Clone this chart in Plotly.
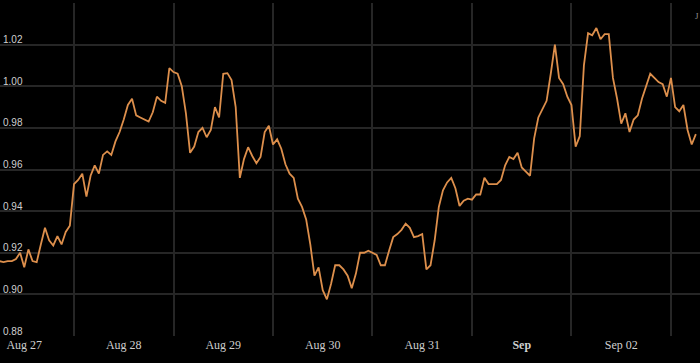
import pandas as pd
import plotly.graph_objects as go

# Hourly values, starting 2024-08-27 06:00
start_time = "2024-08-27 06:00"
values = [
    0.916, 0.9155, 0.916, 0.916, 0.917, 0.920, 0.913, 0.9216, 0.916, 0.9155,
    0.924, 0.932, 0.926, 0.9235, 0.928, 0.924, 0.930, 0.933, 0.953, 0.955,
    0.958, 0.947, 0.957, 0.962, 0.958, 0.967, 0.9687, 0.967, 0.9735, 0.978,
    0.984, 0.991, 0.994, 0.986, 0.985, 0.984, 0.983, 0.9875, 0.995, 0.993,
    0.992, 1.0087, 1.0068, 1.006, 1.000, 0.987, 0.968, 0.971, 0.978, 0.980,
    0.9755, 0.979, 0.990, 0.985, 1.006, 1.0063, 1.003, 0.990, 0.956, 0.965,
    0.9707, 0.9665, 0.963, 0.966, 0.978, 0.981, 0.972, 0.9745, 0.970, 0.9625,
    0.958, 0.956, 0.946, 0.942, 0.936, 0.924, 0.909, 0.913, 0.902, 0.8976,
    0.905, 0.914, 0.914, 0.912, 0.909, 0.903, 0.910, 0.920, 0.920, 0.921,
    0.920, 0.919, 0.914, 0.914, 0.921, 0.9275, 0.929, 0.931, 0.934, 0.932,
    0.9275, 0.928, 0.929, 0.912, 0.914, 0.926, 0.942, 0.950, 0.9538, 0.956,
    0.951, 0.9425, 0.945, 0.946, 0.9455, 0.948, 0.948, 0.956, 0.953, 0.9529,
    0.953, 0.955, 0.962, 0.966, 0.965, 0.968, 0.961, 0.959, 0.957, 0.975,
    0.985, 0.989, 0.993, 1.006, 1.020, 1.004, 1.001, 0.995, 0.991, 0.971,
    0.976, 1.010, 1.0255, 1.0245, 1.028, 1.0226, 1.025, 1.025, 1.004, 0.994,
    0.982, 0.987, 0.978, 0.984, 0.986, 0.994, 0.9995, 1.006, 1.004, 1.002,
    1.001, 0.995, 1.004, 0.990, 0.988, 0.991, 0.979, 0.972, 0.977,
]
times = pd.date_range(start_time, periods=len(values), freq="h")

tick_dates = ["2024-08-27 12:00", "2024-08-28 12:00", "2024-08-29 12:00",
              "2024-08-30 12:00", "2024-08-31 12:00", "2024-09-01 12:00",
              "2024-09-02 12:00"]
tick_labels = ["Aug 27", "Aug 28", "Aug 29", "Aug 30", "Aug 31",
               "<b>Sep</b>", "Sep 02"]
y_ticks = [0.88, 0.90, 0.92, 0.94, 0.96, 0.98, 1.00, 1.02, 1.04]
y_tick_labels = ["0.88", "0.90", "0.92", "0.94", "0.96", "0.98", "1.00", "1.02", ""]
x_range = ["2024-08-27 06:09", "2024-09-03 07:00"]
y_range = [0.88, 1.04]

fig = go.Figure()
fig.add_trace(go.Scatter(
    x=times, y=values, mode="lines",
    line=dict(color="#dd8f4c", width=1.8),
    hoverinfo="skip", showlegend=False,
))

grid = "#262626"
fig.update_layout(
    width=700, height=363,
    margin=dict(l=0, r=0, t=3, b=27, autoexpand=False),
    paper_bgcolor="#000000", plot_bgcolor="#000000",
    xaxis=dict(
        type="date", range=x_range, automargin=False,
        tickmode="array", tickvals=tick_dates, ticktext=tick_labels,
        showgrid=False, zeroline=False, showline=False, ticks="",
        tickfont=dict(family="Liberation Serif", size=12, color="#cfcfcf"),
        minor=dict(tick0="2024-08-27", dtick=86400000, showgrid=True,
                   gridcolor=grid, gridwidth=1.5, ticks=""),
    ),
    yaxis=dict(
        range=y_range, automargin=False,
        tickmode="array", tickvals=y_ticks, ticktext=y_tick_labels,
        ticklabelposition="inside", ticklabelshift=-5, ticklabeloverflow="allow",
        showgrid=True, gridcolor=grid, gridwidth=1.5, zeroline=False,
        showline=False, ticks="",
        tickfont=dict(family="Liberation Sans", size=10, color="#cfcfcf"),
    ),
    annotations=[dict(
        text="J", xref="paper", yref="paper", x=1, y=1,
        xanchor="right", yanchor="top", xshift=1, yshift=-6,
        showarrow=False,
        font=dict(family="Liberation Serif", size=9, color="#8a8a8a"),
    )],
)

fig.write_html(
    "out.html",
    config={"displayModeBar": False},
    post_script="document.body.style.margin='0';document.body.style.background='#000';",
)
